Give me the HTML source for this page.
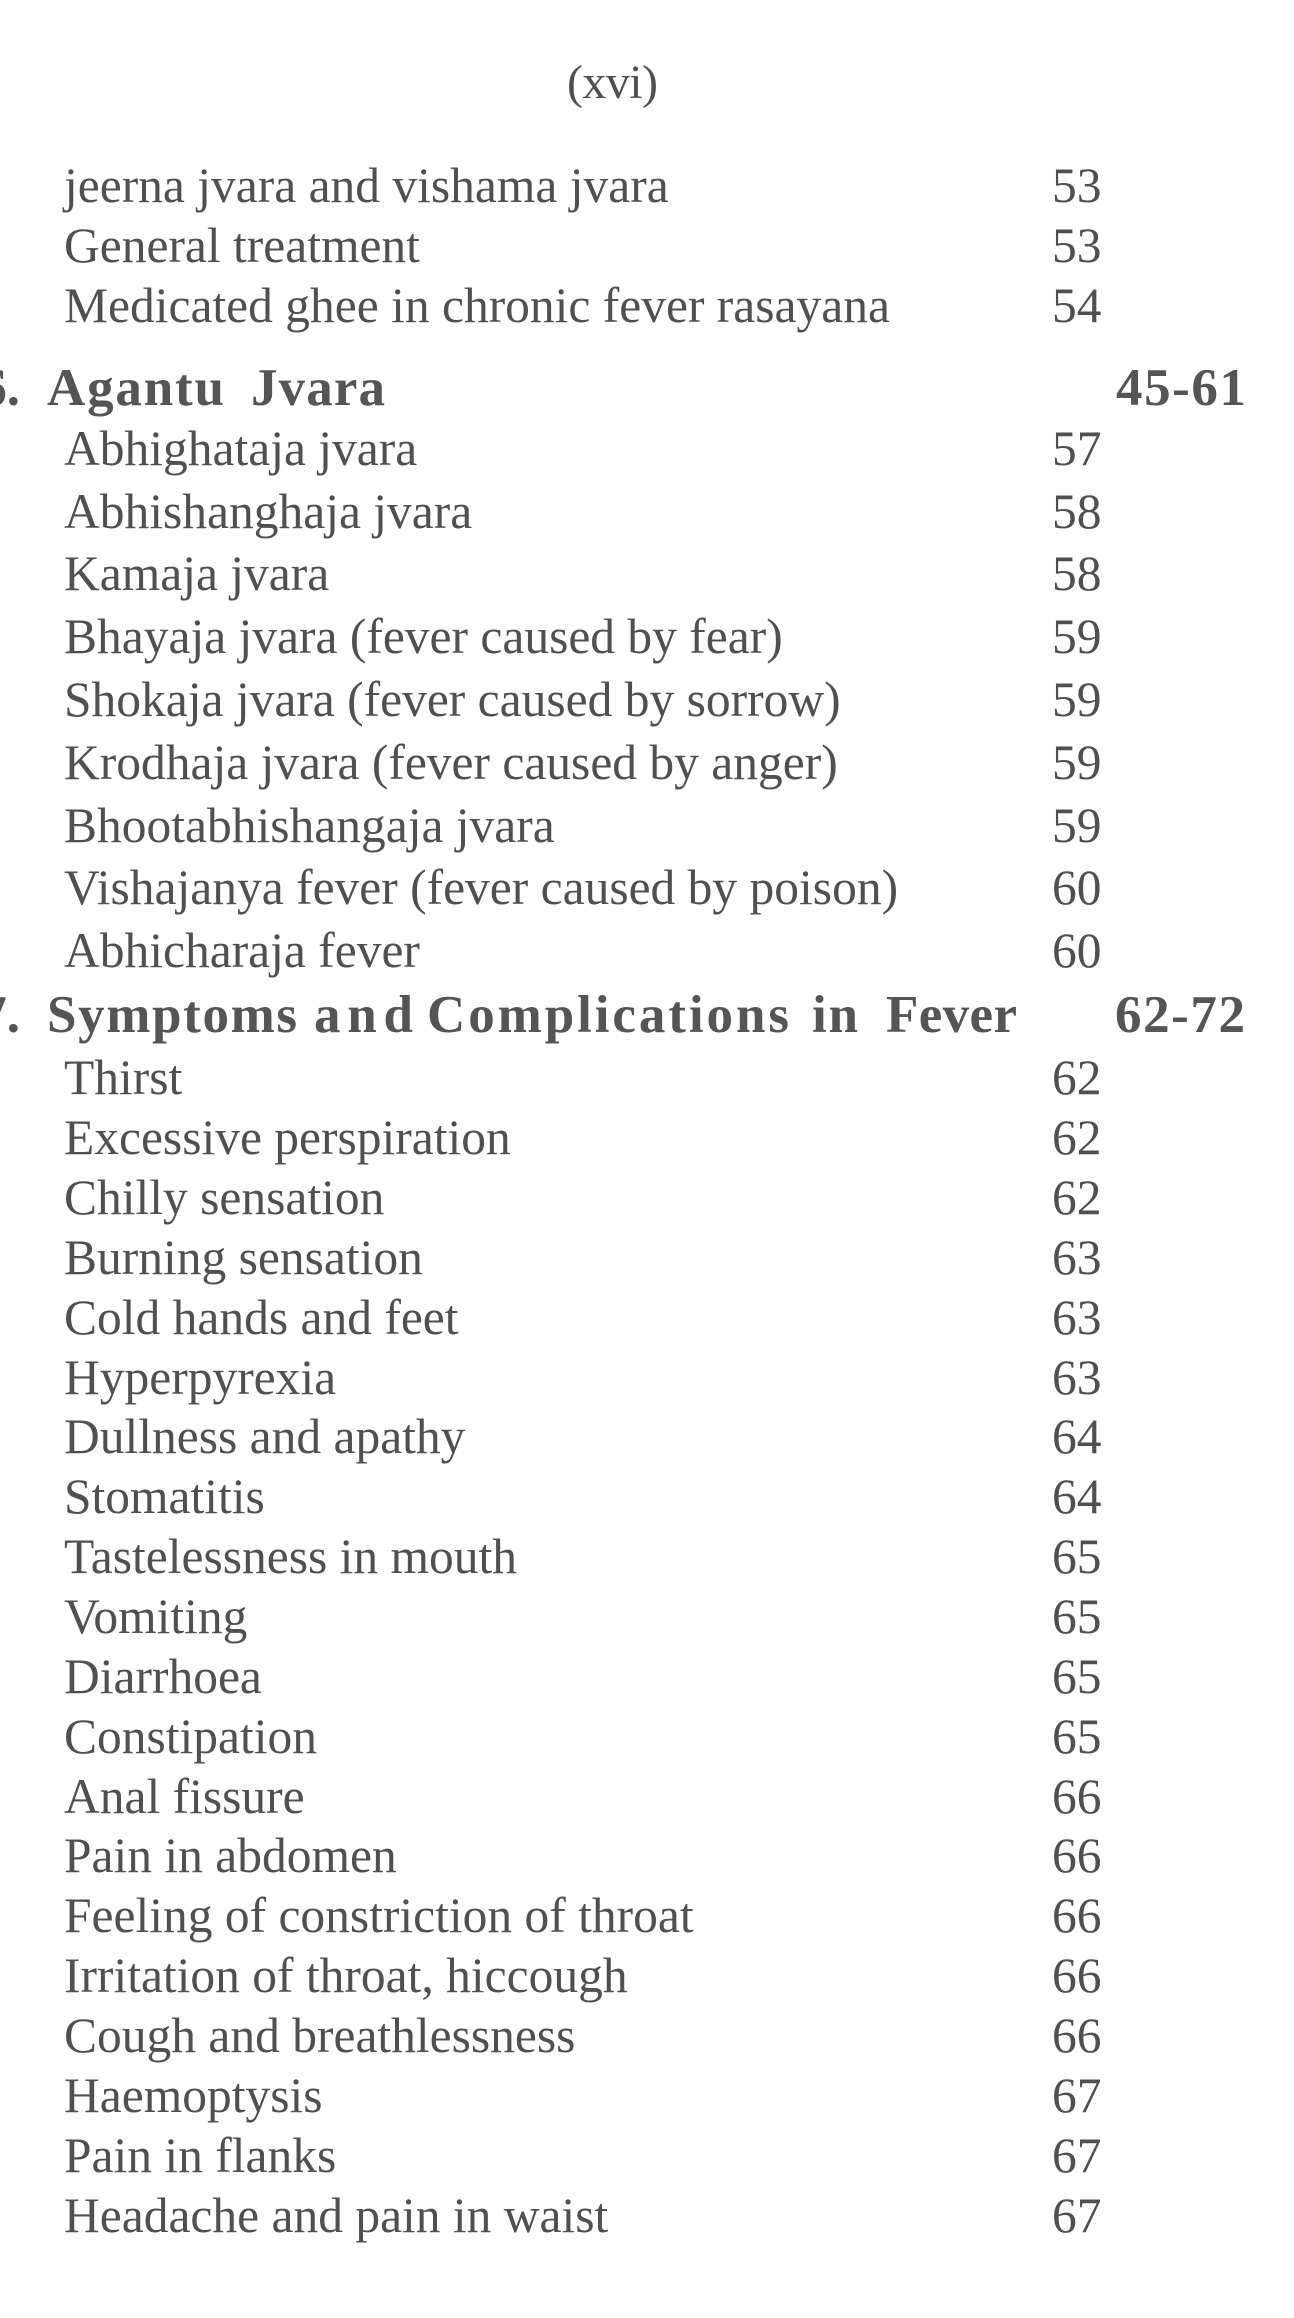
<!DOCTYPE html>
<html>
<head>
<meta charset="utf-8">
<style>
html,body{margin:0;padding:0;background:#ffffff;}
svg{display:block;}
.r{font-family:"Liberation Serif","Times New Roman",serif;font-size:49.5px;fill:#505050;}
.b{font-family:"Liberation Serif","Times New Roman",serif;font-size:53px;font-weight:bold;fill:#555555;}
.h{font-family:"Liberation Serif","Times New Roman",serif;font-size:48px;fill:#505050;}
</style>
</head>
<body>
<svg width="1294" height="2318" viewBox="0 0 1294 2318" xmlns="http://www.w3.org/2000/svg">
<rect width="1294" height="2318" fill="#ffffff"/>

<text class="h" x="567" y="98" textLength="91" lengthAdjust="spacing">(xvi)</text>

<text class="r" x="64" y="202">jeerna jvara and vishama jvara</text><text class="r" x="1052" y="202">53</text>
<text class="r" x="64" y="262">General treatment</text><text class="r" x="1052" y="262">53</text>
<text class="r" x="64" y="322">Medicated ghee in chronic fever rasayana</text><text class="r" x="1052" y="322">54</text>

<text class="b" x="20" y="405" text-anchor="end">6.</text>
<text class="b" x="47" y="405" textLength="177" lengthAdjust="spacing">Agantu</text>
<text class="b" x="251" y="405" textLength="134" lengthAdjust="spacing">Jvara</text>
<text class="b" x="1116" y="405" textLength="130" lengthAdjust="spacing">45-61</text>

<text class="r" x="64" y="465">Abhighataja jvara</text><text class="r" x="1052" y="465">57</text>
<text class="r" x="64" y="528">Abhishanghaja jvara</text><text class="r" x="1052" y="528">58</text>
<text class="r" x="64" y="590">Kamaja jvara</text><text class="r" x="1052" y="590">58</text>
<text class="r" x="64" y="653">Bhayaja jvara (fever caused by fear)</text><text class="r" x="1052" y="653">59</text>
<text class="r" x="64" y="716">Shokaja jvara (fever caused by sorrow)</text><text class="r" x="1052" y="716">59</text>
<text class="r" x="64" y="779">Krodhaja jvara (fever caused by anger)</text><text class="r" x="1052" y="779">59</text>
<text class="r" x="64" y="842">Bhootabhishangaja jvara</text><text class="r" x="1052" y="842">59</text>
<text class="r" x="64" y="904">Vishajanya fever (fever caused by poison)</text><text class="r" x="1052" y="904">60</text>
<text class="r" x="64" y="967">Abhicharaja fever</text><text class="r" x="1052" y="967">60</text>

<text class="b" x="20" y="1032" text-anchor="end">7.</text>
<text class="b" x="47" y="1032" textLength="250" lengthAdjust="spacing">Symptoms</text>
<text class="b" x="314" y="1032" textLength="99" lengthAdjust="spacing">and</text>
<text class="b" x="427" y="1032" textLength="362" lengthAdjust="spacing">Complications</text>
<text class="b" x="812" y="1032" textLength="46" lengthAdjust="spacing">in</text>
<text class="b" x="886" y="1032" textLength="131" lengthAdjust="spacing">Fever</text>
<text class="b" x="1115" y="1032" textLength="130" lengthAdjust="spacing">62-72</text>

<text class="r" x="64" y="1094">Thirst</text><text class="r" x="1052" y="1094">62</text>
<text class="r" x="64" y="1154">Excessive perspiration</text><text class="r" x="1052" y="1154">62</text>
<text class="r" x="64" y="1214">Chilly sensation</text><text class="r" x="1052" y="1214">62</text>
<text class="r" x="64" y="1274">Burning sensation</text><text class="r" x="1052" y="1274">63</text>
<text class="r" x="64" y="1334">Cold hands and feet</text><text class="r" x="1052" y="1334">63</text>
<text class="r" x="64" y="1394">Hyperpyrexia</text><text class="r" x="1052" y="1394">63</text>
<text class="r" x="64" y="1453">Dullness and apathy</text><text class="r" x="1052" y="1453">64</text>
<text class="r" x="64" y="1513">Stomatitis</text><text class="r" x="1052" y="1513">64</text>
<text class="r" x="64" y="1573">Tastelessness in mouth</text><text class="r" x="1052" y="1573">65</text>
<text class="r" x="64" y="1633">Vomiting</text><text class="r" x="1052" y="1633">65</text>
<text class="r" x="64" y="1693">Diarrhoea</text><text class="r" x="1052" y="1693">65</text>
<text class="r" x="64" y="1753">Constipation</text><text class="r" x="1052" y="1753">65</text>
<text class="r" x="64" y="1813">Anal fissure</text><text class="r" x="1052" y="1813">66</text>
<text class="r" x="64" y="1872">Pain in abdomen</text><text class="r" x="1052" y="1872">66</text>
<text class="r" x="64" y="1932">Feeling of constriction of throat</text><text class="r" x="1052" y="1932">66</text>
<text class="r" x="64" y="1992">Irritation of throat, hiccough</text><text class="r" x="1052" y="1992">66</text>
<text class="r" x="64" y="2052">Cough and breathlessness</text><text class="r" x="1052" y="2052">66</text>
<text class="r" x="64" y="2112">Haemoptysis</text><text class="r" x="1052" y="2112">67</text>
<text class="r" x="64" y="2172">Pain in flanks</text><text class="r" x="1052" y="2172">67</text>
<text class="r" x="64" y="2232">Headache and pain in waist</text><text class="r" x="1052" y="2232">67</text>
</svg>
</body>
</html>
